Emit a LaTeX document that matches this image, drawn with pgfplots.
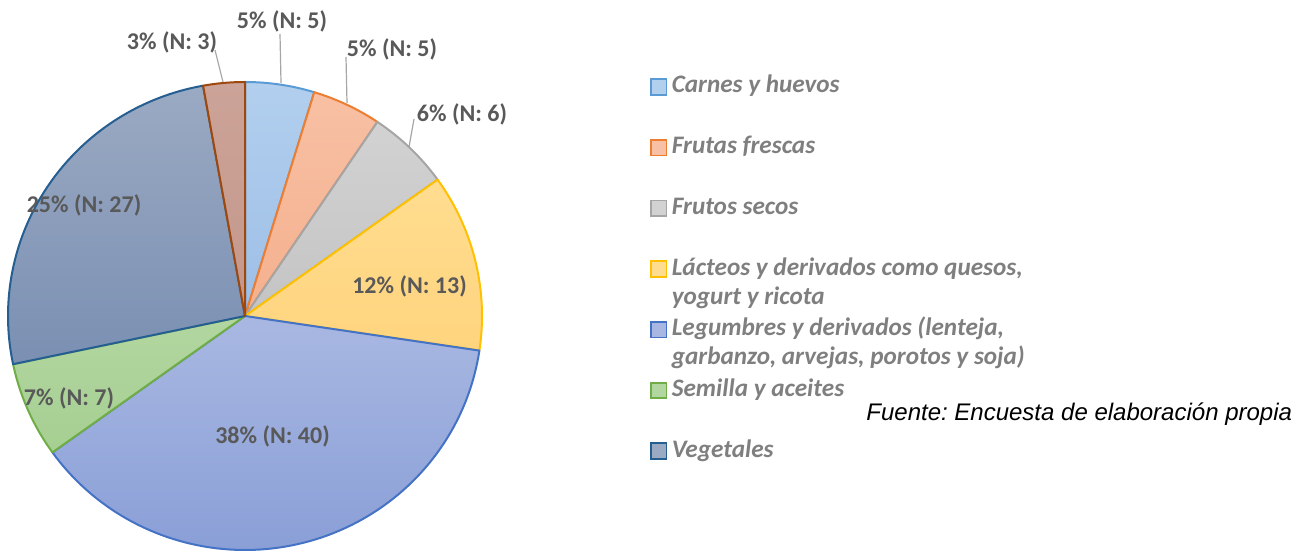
\documentclass[border=0pt]{standalone}
\usepackage{pgfplots}
\pgfplotsset{compat=1.18}
\usepackage{fontspec}
\setmainfont{Carlito}
\newfontfamily\arialfont{Liberation Sans}
\frenchspacing
\definecolor{lbl}{HTML}{595959}
\definecolor{leg}{HTML}{7F7F7F}
\definecolor{lead}{HTML}{A6A6A6}
% slice fills (top / bottom) and borders
\definecolor{c1t}{HTML}{B2CFEE}\definecolor{c1b}{HTML}{9DBEE6}\definecolor{c1e}{HTML}{5B9BD5}
\definecolor{c2t}{HTML}{F8C0A4}\definecolor{c2b}{HTML}{F4B08E}\definecolor{c2e}{HTML}{ED7D31}
\definecolor{c3t}{HTML}{D2D2D2}\definecolor{c3b}{HTML}{C4C4C4}\definecolor{c3e}{HTML}{A5A5A5}
\definecolor{c4t}{HTML}{FFDD90}\definecolor{c4b}{HTML}{FFD47E}\definecolor{c4e}{HTML}{FFC000}
\definecolor{c5t}{HTML}{A9B8E2}\definecolor{c5b}{HTML}{8A9FD7}\definecolor{c5e}{HTML}{4472C4}
\definecolor{c6t}{HTML}{B2D6A0}\definecolor{c6b}{HTML}{A6CF92}\definecolor{c6e}{HTML}{70AD47}
\definecolor{c7t}{HTML}{9BAAC3}\definecolor{c7b}{HTML}{7A8FB2}\definecolor{c7e}{HTML}{255E91}
\definecolor{c8t}{HTML}{CCA398}\definecolor{c8b}{HTML}{C4978B}\definecolor{c8e}{HTML}{9E480E}
\begin{document}
\begin{tikzpicture}
% data: Carnes, Frutas frescas, Frutos secos, Lacteos, Legumbres, Semilla, Vegetales, otro
\def\vA{5}\def\vB{5}\def\vC{6}\def\vD{13}\def\vE{40}\def\vF{7}\def\vG{27}\def\vH{3}
\pgfmathsetmacro\tot{\vA+\vB+\vC+\vD+\vE+\vF+\vG+\vH}
\pgfmathsetmacro\aA{90}
\pgfmathsetmacro\aB{\aA-360*\vA/\tot}
\pgfmathsetmacro\aC{\aB-360*\vB/\tot}
\pgfmathsetmacro\aD{\aC-360*\vC/\tot}
\pgfmathsetmacro\aE{\aD-360*\vD/\tot}
\pgfmathsetmacro\aF{\aE-360*\vE/\tot}
\pgfmathsetmacro\aG{\aF-360*\vF/\tot}
\pgfmathsetmacro\aH{\aG-360*\vG/\tot}
\pgfmathsetmacro\aI{\aH-360*\vH/\tot}
\def\cx{245}\def\cy{236}\def\rx{237}\def\ry{234}
\newcommand\slice[3]{%
  \addplot[forget plot, top color=#3t, bottom color=#3b, draw=#3e, line width=1pt,
    line join=round, domain=#2:#1, samples=90, variable=\t]
    ({\cx+\rx*cos(\t)},{\cy+\ry*sin(\t)}) -- (axis cs:\cx,\cy) -- cycle;}
\path[use as bounding box] (0,0) rectangle (649.5pt,276pt);
\begin{axis}[
  scale only axis, width=649.5pt, height=276pt,
  xmin=0, xmax=1299, ymin=0, ymax=552,
  hide axis, clip=false,
  legend image code/.code={\draw[#1, line width=0.9pt] (0pt,-3.9pt) rectangle (7.8pt,3.9pt);},
  legend cell align=left,
  legend style={at={(axis cs:650,495.4)}, anchor=north west, draw=none, fill=none,
    inner sep=0pt, outer sep=0pt, row sep=0pt, column sep=2.2pt,
    font=\fontsize{12.6}{15}\selectfont\bfseries\itshape, text=leg,
    nodes={inner sep=0pt, text height=18.175pt, text depth=12.175pt}},
]
\slice{\aA}{\aB}{c1}
\slice{\aB}{\aC}{c2}
\slice{\aC}{\aD}{c3}
\slice{\aD}{\aE}{c4}
\slice{\aE}{\aF}{c5}
\slice{\aF}{\aG}{c6}
\slice{\aG}{\aH}{c7}
\slice{\aH}{\aI}{c8}

\addlegendimage{fill=c1t, draw=c1e}
\addlegendentry{Carnes y huevos}
\addlegendimage{fill=c2t, draw=c2e}
\addlegendentry{Frutas frescas}
\addlegendimage{fill=c3t, draw=c3e}
\addlegendentry{Frutos secos}
\addlegendimage{fill=c4t, draw=c4e}
\addlegendentry{\rlap{\smash{\raisebox{-14.5pt}{yogurt y ricota}}}Lácteos y derivados como quesos,}
\addlegendimage{fill=c5t, draw=c5e}
\addlegendentry{\rlap{\smash{\raisebox{-14.5pt}{garbanzo, arvejas, porotos y soja)}}}Legumbres y derivados (lenteja,}
\addlegendimage{fill=c6t, draw=c6e}
\addlegendentry{Semilla y aceites}
\addlegendimage{fill=c7t, draw=c7e}
\addlegendentry{Vegetales}

% leader lines
\draw[lead, line width=0.6pt] (axis cs:280,518) -- (axis cs:281,469);
\draw[lead, line width=0.6pt] (axis cs:346,495) -- (axis cs:347,449);
\draw[lead, line width=0.6pt] (axis cs:414,433) -- (axis cs:409,405);
\draw[lead, line width=0.6pt] (axis cs:215,502) -- (axis cs:223,470);

% data labels
\begin{scope}[every node/.style={anchor=base, text=lbl, inner sep=0pt,
    font=\fontsize{12}{14.4}\selectfont\bfseries}]
\node at (axis cs:282,523.5) {5\% (N: 5)};
\node at (axis cs:392,495) {5\% (N: 5)};
\node at (axis cs:462,430) {6\% (N: 6)};
\node at (axis cs:172,502) {3\% (N: 3)};
\node at (axis cs:409.5,259) {12\% (N: 13)};
\node at (axis cs:272.5,109) {38\% (N: 40)};
\node at (axis cs:69,147) {7\% (N: 7)};
\node at (axis cs:84,339) {25\% (N: 27)};
\end{scope}
\node[anchor=base west, inner sep=0pt, font=\arialfont\fontsize{12}{14.4}\selectfont\itshape]
  at (axis cs:866,132) {Fuente: Encuesta de elaboración propia};
\end{axis}
\end{tikzpicture}
\end{document}
